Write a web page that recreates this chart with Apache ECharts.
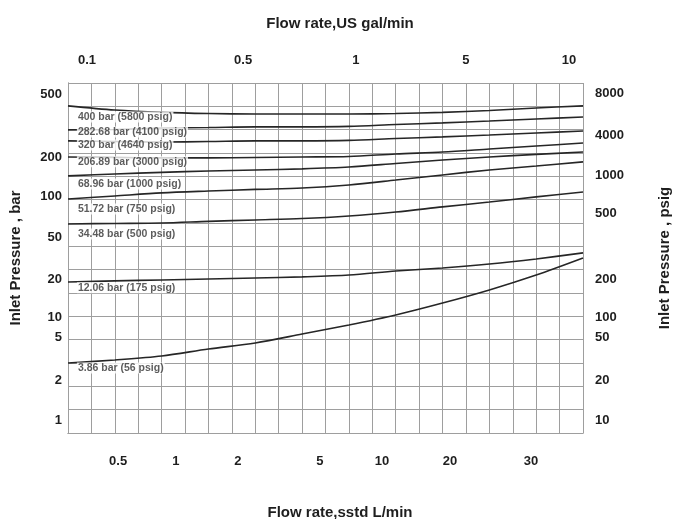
<!DOCTYPE html>
<html>
<head>
<meta charset="utf-8">
<script src="https://cdn.jsdelivr.net/npm/echarts@6/dist/echarts.min.js"></script>
<style>
html,body{margin:0;padding:0;background:#fff;}
#chart{width:680px;height:519px;}
</style>
</head>
<body>
<div id="chart"></div>
<script>
// Chart-paper coordinates: x in grid columns (0..22), y in grid rows (0..15)
const bottomTicks = ['0.5', '1', '2', '5', '10', '20', '30'];
const bottomTickPos = [2.14, 4.61, 7.26, 10.76, 13.41, 16.32, 19.78];
const topTicks = ['0.1', '0.5', '1', '5', '10'];
const topTickPos = [0.81, 7.48, 12.30, 17.0, 21.4];
const leftTicks = ['500', '200', '100', '50', '20', '10', '5', '2', '1'];
const leftTickPos = [14.53, 11.83, 10.12, 8.40, 6.60, 4.97, 4.11, 2.27, 0.56];
const rightTicks = ['8000', '4000', '1000', '500', '200', '100', '50', '20', '10'];
const rightTickPos = [14.57, 12.77, 11.06, 9.39, 6.60, 4.97, 4.11, 2.27, 0.56];

const flowPos = [0, 2, 4, 6, 8, 10, 12, 14, 16, 18, 20, 22];

const curveNames = [
  '400 bar (5800 psig)',
  '282.68 bar (4100 psig)',
  '320 bar (4640 psig)',
  '206.89 bar (3000 psig)',
  '68.96 bar (1000 psig)',
  '51.72 bar (750 psig)',
  '34.48 bar (500 psig)',
  '12.06 bar (175 psig)',
  '3.86 bar (56 psig)'
];
const c400 = [14.02, 13.84, 13.74, 13.69, 13.67, 13.67, 13.67, 13.69, 13.74, 13.82, 13.93, 14.02];
const c282 = [12.99, 13.01, 13.07, 13.09, 13.12, 13.12, 13.14, 13.22, 13.29, 13.37, 13.46, 13.54];
const c320 = [12.52, 12.49, 12.47, 12.49, 12.52, 12.52, 12.54, 12.62, 12.69, 12.77, 12.86, 12.94];
const c206 = [11.83, 11.81, 11.79, 11.79, 11.81, 11.83, 11.85, 11.96, 12.04, 12.17, 12.30, 12.43];
const c69 = [11.02, 11.10, 11.17, 11.23, 11.27, 11.32, 11.40, 11.55, 11.70, 11.83, 11.94, 12.04];
const c52 = [10.03, 10.16, 10.29, 10.37, 10.44, 10.50, 10.63, 10.84, 11.06, 11.27, 11.44, 11.62];
const c34 = [8.96, 8.98, 9.00, 9.07, 9.13, 9.19, 9.30, 9.47, 9.69, 9.90, 10.12, 10.33];
const c12 = [6.47, 6.52, 6.56, 6.60, 6.64, 6.69, 6.77, 6.94, 7.07, 7.24, 7.46, 7.72];
const c4 = [3.00, 3.13, 3.30, 3.60, 3.86, 4.24, 4.63, 5.06, 5.57, 6.13, 6.77, 7.50];
const curves = [c400, c282, c320, c206, c69, c52, c34, c12, c4];

// curve annotation anchors (grid units)
const noteX = [0.38, 0.38, 0.38, 0.38, 0.38, 0.38, 0.38, 0.38, 0.38];
const noteY = [13.54, 12.90, 12.34, 11.62, 10.67, 9.60, 8.53, 6.22, 2.79];

const FONT = '"Liberation Sans", Arial, sans-serif';
const GRID_COLOR = '#9e9e9e';

function lookup(pos, labels) {
  return function (v) {
    for (let i = 0; i < pos.length; i++) {
      if (Math.abs(pos[i] - v) < 1e-6) return labels[i];
    }
    return '';
  };
}

const labelStyle = { color: '#1e1e1e', fontFamily: FONT, fontWeight: 'bold', fontSize: 13 };
const nameStyle = { fontFamily: FONT, fontWeight: 'bold', fontSize: 15, color: '#1e1e1e' };

const chart = echarts.init(document.getElementById('chart'), null, { renderer: 'canvas' });

const series = curves.map((c, k) => ({
  type: 'line',
  name: curveNames[k],
  xAxisIndex: 0,
  yAxisIndex: 0,
  data: flowPos.map((x, i) => [x, c[i]]),
  smooth: 0.3,
  symbol: 'none',
  silent: true,
  lineStyle: { color: '#262626', width: 1.6 },
  z: 3
}));

series.push({
  type: 'scatter',
  xAxisIndex: 0,
  yAxisIndex: 0,
  symbolSize: 0,
  silent: true,
  z: 4,
  data: curveNames.map((n, k) => ({ name: n, value: [noteX[k], noteY[k]] })),
  label: {
    show: true,
    position: 'right',
    distance: 0,
    formatter: p => p.name,
    color: '#333',
    fontFamily: FONT,
    fontWeight: 'bold',
    fontSize: 10.5,
    backgroundColor: '#fff',
    padding: [0, 1]
  }
});

const option = {
  backgroundColor: '#fff',
  animation: false,
  title: [
    { text: 'Flow rate,US gal/min', left: 'center', top: 11, textStyle: nameStyle },
    { text: 'Flow rate,sstd L/min', left: 'center', top: 500, textStyle: nameStyle }
  ],
  graphic: [
    {
      type: 'text',
      x: 665,
      y: 258,
      rotation: Math.PI / 2,
      style: {
        text: 'Inlet Pressure , psig',
        fill: '#1e1e1e',
        font: 'bold 15px "Liberation Sans", Arial, sans-serif',
        textAlign: 'center',
        textVerticalAlign: 'middle'
      }
    }
  ],
  grid: { left: 68, right: 97, top: 83, bottom: 86, containLabel: false },
  xAxis: [
    {
      type: 'value', position: 'bottom', min: 0, max: 22, interval: 1,
      axisLine: { show: true, lineStyle: { color: GRID_COLOR } },
      axisTick: { show: false },
      splitLine: { show: true, lineStyle: { color: GRID_COLOR, width: 1 } },
      axisLabel: { customValues: bottomTickPos, formatter: lookup(bottomTickPos, bottomTicks), margin: 22, ...labelStyle }
    },
    {
      type: 'value', position: 'top', min: 0, max: 22, interval: 1,
      axisLine: { show: true, lineStyle: { color: GRID_COLOR } },
      axisTick: { show: false },
      splitLine: { show: false },
      axisLabel: { customValues: topTickPos, formatter: lookup(topTickPos, topTicks), margin: 16, ...labelStyle }
    }
  ],
  yAxis: [
    {
      type: 'value', position: 'left', min: 0, max: 15, interval: 1,
      name: 'Inlet Pressure , bar', nameLocation: 'middle', nameGap: 45, nameRotate: 90,
      nameTextStyle: nameStyle,
      axisLine: { show: true, lineStyle: { color: GRID_COLOR } },
      axisTick: { show: false },
      splitLine: { show: true, lineStyle: { color: GRID_COLOR, width: 1 } },
      axisLabel: { customValues: leftTickPos, formatter: lookup(leftTickPos, leftTicks), margin: 6, ...labelStyle }
    },
    {
      type: 'value', position: 'right', min: 0, max: 15, interval: 1,
      axisLine: { show: true, lineStyle: { color: GRID_COLOR } },
      axisTick: { show: true, length: 3, lineStyle: { color: GRID_COLOR } },
      splitLine: { show: false },
      axisLabel: { customValues: rightTickPos, formatter: lookup(rightTickPos, rightTicks), margin: 12, ...labelStyle }
    }
  ],
  series: series
};

chart.setOption(option);
</script>
</body>
</html>
